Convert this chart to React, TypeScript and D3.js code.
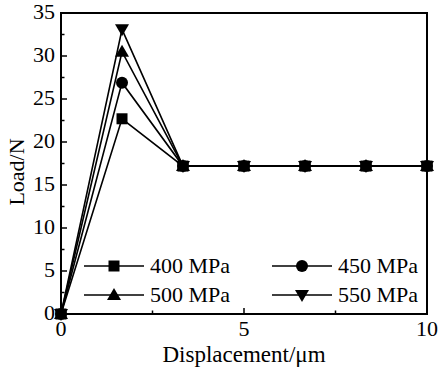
import React from 'react';
import * as d3 from 'd3';

const xValues = [0, 1.667, 3.333, 5, 6.667, 8.333, 10];
const seriesNames = ['400 MPa', '450 MPa', '500 MPa', '550 MPa'];
const series400 = [0, 22.7, 17.2, 17.2, 17.2, 17.2, 17.2];
const series450 = [0, 26.9, 17.2, 17.2, 17.2, 17.2, 17.2];
const series500 = [0, 30.5, 17.2, 17.2, 17.2, 17.2, 17.2];
const series550 = [0, 33.1, 17.2, 17.2, 17.2, 17.2, 17.2];
const xTicks = [0, 5, 10];
const xMinor = [2.5, 7.5];
const yTicks = [0, 5, 10, 15, 20, 25, 30, 35];
const yMinor = [2.5, 7.5, 12.5, 17.5, 22.5, 27.5, 32.5];

const allSeries = [series400, series450, series500, series550];
const symbols = ['square', 'circle', 'up', 'down'];

const width = 440;
const height = 372;
const margin = { top: 13, right: 13, bottom: 58, left: 61 };
const font = '"Liberation Serif", "Times New Roman", serif';
const fs = 22;

const Marker: React.FC<{ kind: string; x: number; y: number }> = ({ kind, x, y }) => {
  if (kind === 'square') return <rect x={x - 5.5} y={y - 5.5} width={11} height={11} fill="#000" />;
  if (kind === 'circle') return <circle cx={x} cy={y} r={6} fill="#000" />;
  if (kind === 'up')
    return <path d={`M${x},${y - 7} L${x + 7},${y + 5} L${x - 7},${y + 5} Z`} fill="#000" />;
  return <path d={`M${x},${y + 7} L${x + 7},${y - 5} L${x - 7},${y - 5} Z`} fill="#000" />;
};

const App: React.FC = () => {
  const innerW = width - margin.left - margin.right;
  const innerH = height - margin.top - margin.bottom;
  const x = d3.scaleLinear().domain([0, 10]).range([margin.left, margin.left + innerW]);
  const y = d3.scaleLinear().domain([0, 35]).range([margin.top + innerH, margin.top]);
  const line = d3.line<number>().x((_, i) => x(xValues[i])).y((d) => y(d));

  const legendPos = [
    { lx: 84, ly: 266 },
    { lx: 272, ly: 266 },
    { lx: 84, ly: 295 },
    { lx: 272, ly: 295 },
  ];

  return (
    <svg width={width} height={height} style={{ position: 'absolute', left: 0, top: 0, background: '#fff' }}>
      {/* series lines */}
      {allSeries.map((s, i) => (
        <path key={'l' + i} d={line(s) || ''} fill="none" stroke="#000" strokeWidth={1.6} />
      ))}
      {allSeries.map((s, i) =>
        s.map((v, j) => <Marker key={`m${i}-${j}`} kind={symbols[i]} x={x(xValues[j])} y={y(v)} />)
      )}

      {/* frame */}
      <rect x={margin.left} y={margin.top} width={innerW} height={innerH} fill="none" stroke="#000" strokeWidth={2} />

      {/* x ticks */}
      {xTicks.map((t) => (
        <g key={'xt' + t}>
          <line x1={x(t)} x2={x(t)} y1={y(0)} y2={y(0) - 6} stroke="#000" strokeWidth={1.5} />
          <text x={x(t)} y={y(0) + 22} textAnchor="middle" fontFamily={font} fontSize={fs}>{t}</text>
        </g>
      ))}
      {xMinor.map((t) => (
        <line key={'xm' + t} x1={x(t)} x2={x(t)} y1={y(0)} y2={y(0) - 3.5} stroke="#000" strokeWidth={1.5} />
      ))}

      {/* y ticks */}
      {yTicks.map((t) => (
        <g key={'yt' + t}>
          <line x1={x(0)} x2={x(0) + 6} y1={y(t)} y2={y(t)} stroke="#000" strokeWidth={1.5} />
          <text x={x(0) - 6} y={y(t) + 6} textAnchor="end" fontFamily={font} fontSize={fs}>{t}</text>
        </g>
      ))}
      {yMinor.map((t) => (
        <line key={'ym' + t} x1={x(0)} x2={x(0) + 3.5} y1={y(t)} y2={y(t)} stroke="#000" strokeWidth={1.5} />
      ))}

      {/* axis labels */}
      <text x={x(5)} y={362} textAnchor="middle" fontFamily={font} fontSize={23}>Displacement/μm</text>
      <text transform={`translate(24,172) rotate(-90)`} textAnchor="middle" fontFamily={font} fontSize={fs}>Load/N</text>

      {/* legend */}
      {seriesNames.map((name, i) => {
        const { lx, ly } = legendPos[i];
        return (
          <g key={'lg' + i}>
            <line x1={lx} x2={lx + 60} y1={ly} y2={ly} stroke="#000" strokeWidth={1.6} />
            <Marker kind={symbols[i]} x={lx + 30} y={ly} />
            <text x={lx + 66} y={ly + 7} fontFamily={font} fontSize={fs}>{name}</text>
          </g>
        );
      })}
    </svg>
  );
};

export default App;
